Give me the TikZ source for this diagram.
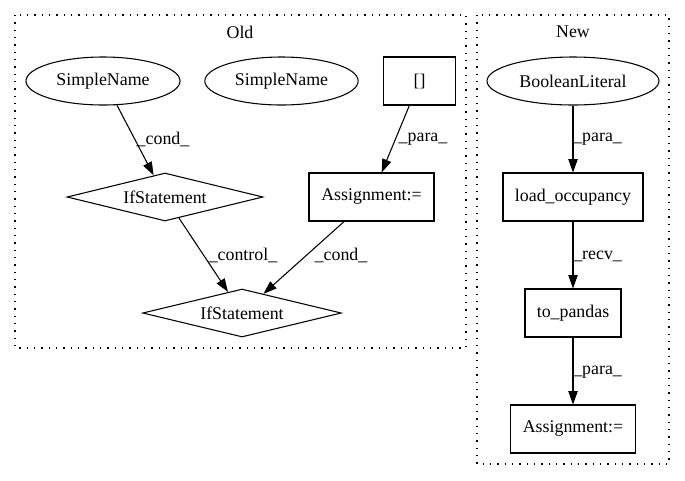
\documentclass[tikz,border=0pt]{standalone}
\usepackage{fontspec}
\setmainfont{Liberation Serif}
\usetikzlibrary{shapes.geometric,arrows.meta}
\begin{document}
\begin{tikzpicture}[x=0.75pt,y=-0.75pt,
  every node/.style={font=\fontsize{13.4}{16}\selectfont},
  ell/.style={draw,ellipse,inner sep=0pt,minimum height=36pt,line width=0.8pt},
  box/.style={draw,rectangle,inner sep=0pt,minimum height=36pt,line width=0.8pt},
  dia/.style={draw,diamond,aspect=4,inner sep=0pt,minimum height=36pt,line width=0.8pt},
  edgearrow/.style={-{Triangle[length=10pt,width=7pt]},line width=0.8pt},
  lab/.style={inner sep=0pt},
  cluster/.style={draw,dash pattern=on 1pt off 4.5pt,line width=0.8pt}
]
\useasboundingbox (0,0) rectangle (685,480);
% clusters
\draw[cluster] (15,15) rectangle (466,348);
\draw[cluster] (477,15) rectangle (669,464);
\node[lab] (told) at (240,32) {Old};
\node[lab] (tnew) at (573,32) {New};
% Old nodes
\node[ell,minimum width=115.5pt] (sn1) at (103,81) {SimpleName};
\node[ell,minimum width=115pt] (sn2) at (281.5,81) {SimpleName};
\node[box,minimum width=54.5pt] (br) at (419.5,81) {[]};
\node[dia,minimum width=147pt] (if1) at (165,197) {IfStatement};
\node[box,minimum width=93.75pt] (as1) at (371.5,197) {Assignment:=};
\node[dia,minimum width=149pt] (if2) at (242,313) {IfStatement};
% New nodes
\node[ell,minimum width=129pt] (bl) at (573,81) {BooleanLiteral};
\node[box,minimum width=105pt] (lo) at (573,197) {load\_occupancy};
\node[box,minimum width=72pt] (tp) at (573,313) {to\_pandas};
\node[box,minimum width=93.75pt] (as2) at (573,429) {Assignment:=};
% edges Old
\draw[edgearrow] (sn1.-60) -- (if1);
\draw[edgearrow] (br) -- (as1);
\draw[edgearrow] (if1) -- (if2);
\draw[edgearrow] (as1) -- (if2);
\node[lab] (l1) at (163,139) {\_cond\_};
\node[lab] (l2) at (423,139) {\_para\_};
\node[lab] (l3) at (243,255) {\_control\_};
\node[lab] (l4) at (341,255) {\_cond\_};
% edges New
\draw[edgearrow] (bl) -- (lo);
\draw[edgearrow] (lo) -- (tp);
\draw[edgearrow] (tp) -- (as2);
\node[lab,anchor=west] (l5) at (573,139) {\_para\_};
\node[lab,anchor=west] (l6) at (573,256) {\_recv\_};
\node[lab,anchor=west] (l7) at (573,372) {\_para\_};
\end{tikzpicture}
\end{document}
